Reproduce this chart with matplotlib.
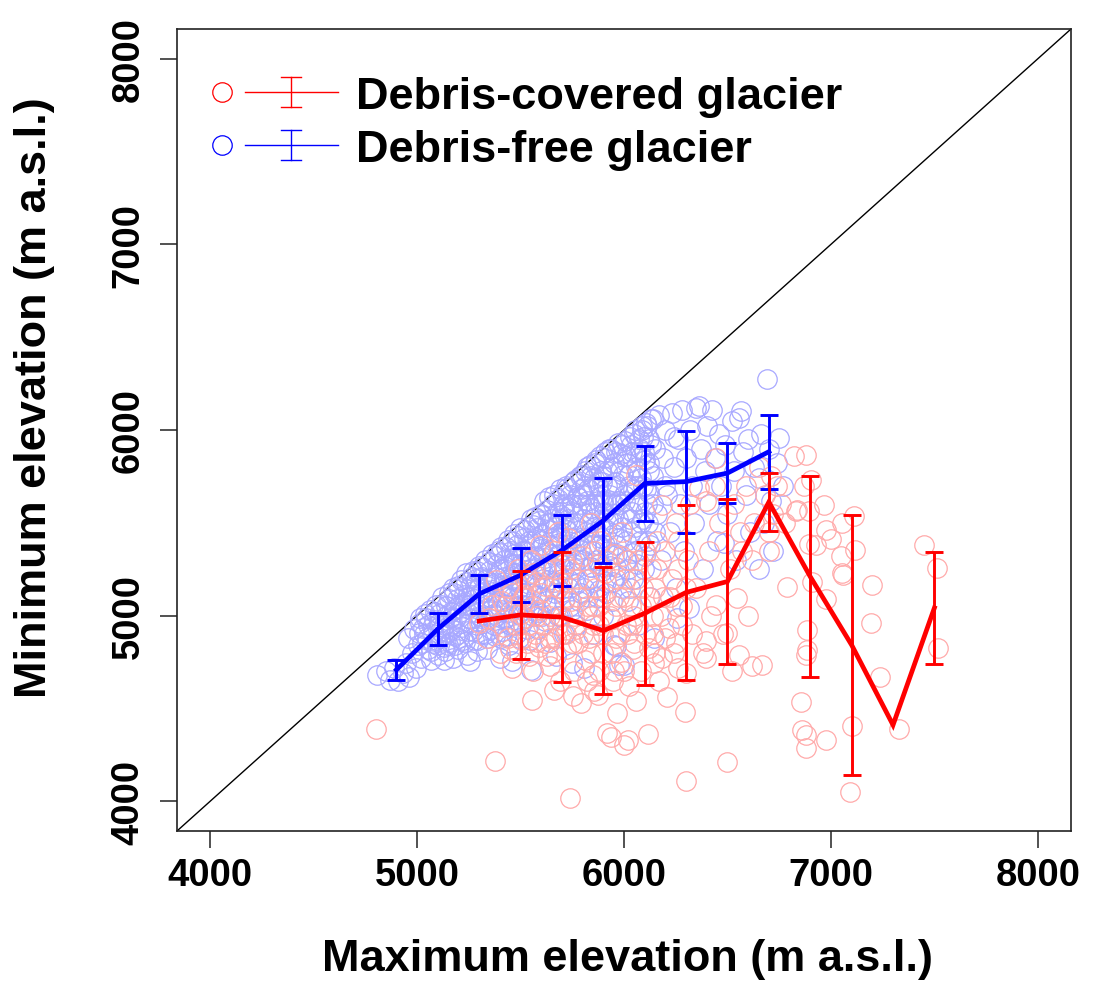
import numpy as np
import matplotlib
matplotlib.use("Agg")
import matplotlib.pyplot as plt

plt.rcParams['font.family'] = ['Liberation Sans', 'DejaVu Sans']

# glacier (max elevation, min elevation) pairs
blue_low = [(4805,4680),(4850,4700),(4870,4655),(4890,4720),(4910,4650),(4930,4690),(4945,4745),(4960,4670),
            (4955,4880),(4975,4800),(4985,4930),(4995,4720),(5005,4840),(5015,4960),(5020,4770),(5035,4900),
            (5045,4990),(5055,4820),(5065,4760),(5070,4940),(5085,5020),(5090,4870),(5100,4790),(5105,4960),
            (5115,5060),(5125,4900),(5130,4760),(5140,5000),(5150,4840),(5155,5090),(5165,4950),(5172,4770),
            (5180,5120),(5185,4890),(5190,5040),(5198,4820),(5130,4830),(5075,4850),(5110,4920),(5160,4990)]
blue_mid = [(5205,5150),(5210,4960),(5220,4870),(5225,5060),(5235,5180),(5240,4790),(5250,4990),(5254,4755),
            (5260,5110),(5265,5210),(5270,4920),(5280,5040),(5288,4810),(5290,5240),(5295,4870),(5300,5150),
            (5310,4990),(5315,5260),(5320,5080),(5330,4900),(5335,5200),(5340,4820),(5350,5290),(5355,5030),
            (5360,5130),(5370,4950),(5375,5320),(5380,5210),(5390,5060),(5399,4770),(5400,5340),(5405,4880),
            (5410,5160),(5420,5270),(5425,4990),(5430,5370),(5440,5100),(5445,4840),(5450,5220),(5457,4755),
            (5460,5400),(5465,5310),(5470,4950),(5480,5050),(5485,5180),(5490,5430),(5495,4880),(5500,5280),
            (5510,5350),(5515,5120),(5520,5460),(5525,4990),(5530,5220),(5540,5400),(5545,4870),(5553,4706),
            (5555,5300),(5560,5490),(5565,5060),(5570,5170),(5580,5420),(5585,4930),(5590,5510),(5595,5250),
            (5240,5100),(5300,5050),(5350,5180),(5380,5000),(5420,5120),(5460,5200),(5500,5140),(5540,5040),
            (5580,5320),(5280,5160),(5330,5100),(5400,5250),(5470,5330),(5520,5290)]
blue_core = [(5600,5540),(5605,5100),(5610,5380),(5620,4970),(5625,5250),(5630,5570),(5635,5460),(5640,4860),
             (5645,5150),(5650,5330),(5655,5600),(5660,5050),(5665,5480),(5670,4780),(5675,5220),(5680,5630),
             (5685,5390),(5690,5000),(5695,5540),(5700,5130),(5705,5660),(5710,4900),(5715,5300),(5720,5460),
             (5725,5690),(5730,5200),(5735,5580),(5740,5050),(5745,5370),(5751,4744),(5755,5720),(5760,5500),
             (5765,5250),(5770,4950),(5775,5640),(5780,5400),(5785,5750),(5790,5120),(5795,5560),(5800,5300),
             (5809,4717),(5810,5780),(5815,5450),(5820,5030),(5825,5680),(5830,5200),(5835,5810),(5840,5580),
             (5845,5350),(5850,4900),(5855,5740),(5860,5480),(5865,5840),(5870,5100),(5875,5620),(5880,5280),
             (5885,5860),(5890,5420),(5895,5720),(5900,5000),(5905,5560),(5910,5880),(5915,5180),(5920,5780),
             (5925,5350),(5930,5650),(5935,5900),(5940,5080),(5945,5500),(5954,4841),(5950,5820),(5960,5260),
             (5963,4836),(5965,5700),(5970,5930),(5975,5420),(5978,4733),(5980,5600),(5985,5870),(5990,5150),
             (5995,5760),(5650,5420),(5700,5520),(5750,5600),(5800,5650),(5850,5700),(5900,5750),(5950,5600),
             (5620,5310),(5680,5150),(5720,5380),(5780,5300),(5830,5500),(5880,5380),(5920,5460),(5970,5520),
             (5610,5200),(5690,5280),(5760,5420),(5840,5260),(5900,5620),(5960,5380),(5640,5500),(5710,5600),
             (5790,5680),(5860,5600),(5940,5700)]
blue_high = [(6000,5550),(6002,4733),(6005,5940),(6010,5300),(6015,5820),(6020,5080),(6025,5700),(6030,5960),
             (6035,5450),(6040,5880),(6045,5200),(6050,5620),(6055,6000),(6060,5350),(6065,5780),(6070,4950),
             (6075,5900),(6080,5500),(6085,6020),(6090,5700),(6095,5250),(6100,5840),(6105,6040),(6110,5600),
             (6115,5400),(6120,5950),(6125,5100),(6130,6060),(6140,5750),(6147,4879),(6150,5900),(6160,5550),
             (6170,6080),(6180,5300),(6190,5850),(6200,6000),(6210,5650),(6220,5450),(6230,6090),(6240,5800),
             (6250,5150),(6258,4987),(6260,5950),(6270,5600),(6280,6110),(6290,5350),(6300,5850),(6315,5040),
             (6320,6000),(6330,5700),(6340,5500),(6350,6120),(6364,6130),(6370,5900),(6380,5250),(6390,5780),
             (6400,6020),(6030,5150),(6060,5880),(6090,5960),(6120,5820),(6200,5700),(6240,5960)]
blue_right = [(6410,5600),(6427,6108),(6440,5850),(6450,5400),(6460,5980),(6470,5700),(6484,5391),(6490,5920),
              (6500,5550),(6520,6050),(6530,5780),(6540,5300),(6557,6065),(6567,6102),(6575,5880),(6590,5650),
              (6600,5950),(6610,5450),(6630,5800),(6653,5741),(6660,5980),(6677,5499),(6692,6275),(6700,5900),
              (6710,5620),(6740,5822),(6750,5957),(6770,5700),(6720,5350),(6650,5250)]
# the densely packed part of the debris-free cloud
blue_fill_a = [(5008,4905),(5012,4985),(5022,4850),(5028,4935),(5040,5010),(5048,4880),(5052,4950),(5062,5030),
               (5068,4810),(5078,4900),(5082,4975),(5092,5060),(5098,4840),(5108,5010),(5112,4880),(5120,5100),
               (5128,4950),(5135,4810),(5138,5050),(5146,4910),(5152,5120),(5158,4860),(5162,5020),(5170,4930),
               (5176,5150),(5182,4840),(5188,4990),(5194,5090),(5196,4900),(5200,5160)]
blue_fill_b = [(5204,4880),(5208,5020),(5214,5190),(5218,4940),(5226,5110),(5232,4860),(5238,5230),(5244,5040),
               (5248,4920),(5256,5160),(5262,4980),(5268,5240),(5274,4870),(5276,5090),(5284,5200),(5292,4950),
               (5298,5270),(5304,5000),(5308,4900),(5312,5210),(5318,5130),(5324,4960),(5328,5300),(5336,5040),
               (5342,4880),(5346,5240),(5352,5100),(5358,4930),(5364,5330),(5368,5170),(5372,5010),(5378,4890),
               (5384,5280),(5388,5080),(5392,5350),(5396,4960),(5344,5160),(5302,5120),(5258,5060),(5216,5070)]
blue_fill_c = [(5404,5030),(5408,5370),(5412,4920),(5418,5210),(5422,5300),(5428,4890),(5434,5160),(5438,5410),
               (5442,5020),(5448,5280),(5452,4950),(5456,5350),(5462,5100),(5468,5440),(5472,5230),(5476,4900),
               (5482,5380),(5488,5010),(5492,5150),(5498,5470),(5502,5320),(5506,4960),(5512,5230),(5516,5420),
               (5522,5060),(5528,5350),(5532,4930),(5536,5480),(5542,5170),(5548,5290),(5552,5520),(5558,5000),
               (5562,5400),(5568,5250),(5572,5530),(5576,5110),(5582,5470),(5586,5020),(5592,5360),(5598,5550),
               (5450,5160),(5500,5060),(5550,5120),(5430,5060),(5470,5280)]
blue_fill_d = [(5602,5000),(5606,5440),(5612,5620),(5616,5270),(5622,5080),(5628,5500),(5632,5190),(5638,5640),
               (5642,5380),(5648,5040),(5652,5520),(5658,5260),(5662,5650),(5668,5120),(5672,5430),(5678,5560),
               (5682,5000),(5688,5330),(5692,5680),(5698,5200),(5702,5450),(5708,5580),(5712,5080),(5718,5700),
               (5722,5320),(5728,5520),(5732,5150),(5738,5650),(5742,5420),(5748,5030),(5752,5560),(5758,5280),
               (5762,5730),(5768,5170),(5772,5480),(5778,5640),(5782,5080),(5788,5360),(5792,5600),(5798,5760),
               (5660,5180),(5710,5250),(5770,5330),(5630,5350),(5690,5420)]
blue_fill_e = [(5802,5520),(5806,5150),(5812,5700),(5818,5380),(5822,5800),(5828,5100),(5832,5600),(5838,5260),
               (5842,5750),(5848,5450),(5852,5180),(5858,5820),(5862,5560),(5868,5300),(5872,5700),(5878,5140),
               (5882,5480),(5888,5780),(5892,5240),(5898,5600),(5902,5850),(5908,5380),(5912,5120),(5918,5700),
               (5922,5520),(5928,5900),(5932,5270),(5938,5620),(5942,5800),(5948,5180),(5952,5440),(5958,5720),
               (5962,5880),(5968,5330),(5972,5620),(5978,5220),(5982,5780),(5988,5480),(5992,5920),(5998,5650),
               (5850,5380),(5900,5480),(5950,5550),(5820,5620),(5880,5640)]
blue_fill_f = [(6004,5620),(6008,5400),(6012,5860),(6018,5250),(6022,5760),(6028,5520),(6032,5920),(6038,5340),
               (6042,5680),(6048,5980),(6052,5480),(6058,5800),(6062,5280),(6068,5600),(6072,5950),(6078,5400),
               (6082,5740),(6088,6000),(6092,5520),(6098,5880),(6102,5320),(6108,5680),(6112,6020),(6118,5500),
               (6122,5780),(6128,5380),(6132,5920),(6138,5600),(6142,6060),(6148,5450),(6040,5560),(6080,5860),
               (6120,5660),(6060,5700),(6100,5560)]

red_left = [(4800,4390),(5375,4215),(5557,4546),(5300,4960),(5340,4880),(5360,5060),(5380,5190),(5400,4800),
            (5420,4940),(5440,5150),(5460,4720),(5470,5030),(5490,5250),(5500,4870),(5510,5100),(5520,4990),
            (5529,5202),(5540,4780),(5550,5300),(5560,5050),(5570,4900),(5580,5180),(5590,4830),(5595,5380),
            (5350,4990),(5410,5080),(5480,4950),(5530,4850),(5580,5000),(5450,4820),(5520,5200),(5560,4700),
            (5600,5120)]
red_mid = [(5610,4950),(5620,5250),(5630,4780),(5640,4728),(5650,5060),(5660,5350),(5670,4880),(5680,5150),
           (5690,4650),(5700,5000),(5710,5280),(5720,4820),(5730,5420),(5740,4020),(5745,5080),(5755,4566),
           (5770,4930),(5780,5200),(5794,4528),(5800,5320),(5810,4760),(5820,5050),(5830,4880),(5840,5500),
           (5850,4680),(5857,4593),(5860,5150),(5872,4571),(5880,4950),(5890,5400),(5900,4800),(5910,5230),
           (5917,4367),(5930,5000),(5938,4345),(5945,4650),(5950,5330),(5960,4880),(5968,4474),(5975,5100),
           (5985,4750),(5990,5450),(6002,4304),(6005,5200),(6010,4950),(6017,4330),(6025,4620),(6035,5050),
           (6045,4820),(6060,4539),(6060,5757),(6070,5300),(6080,4700),(6090,5150),(6100,4900),(6115,4361),
           (6123,4825),(6130,5250),(6140,5000),(6147,4744),(6160,5400),(6170,4650),(6185,4771),(6190,5100),
           (6200,4880),(5640,5000),(5700,4900),(5760,4700),(5820,4650),(5880,4700),(5940,4800),(6000,4700),
           (6050,5000),(5660,4600),(5720,5100),(5780,4850),(5840,5000),(5900,5100),(5960,5050),(6020,4900),
           (5680,5450),(5750,5300),(5870,5280),(5990,5320),(6150,5150),(5620,4850),(5850,5050)]
red_extra = [(5420,5050),(5440,4880),(5460,5120),(5480,4800),(5500,5010),(5520,5110),(5540,4950),(5560,5230),
             (5580,4860),(5600,5030),(5620,5160),(5640,4880),(5660,5250),(5680,4950),(5700,5180),(5720,4900),
             (5740,5250),(5760,5000),(5780,5100),(5800,4900),(5820,5200),(5840,4800),(5860,5350),(5880,5050),
             (5900,4900),(5920,5300),(5940,4980),(5960,5200),(5980,4900),(6000,5100),(6020,5300),(6040,4950),
             (6060,5200),(6080,5050),(6100,5350),(6120,5100),(6140,4900),(6160,5250),(6180,5000),(6200,5350),
             (6220,5100),(6240,4800),(6260,5250),(6280,4950),(6300,5150),(5650,4800),(5750,4850),(5850,4950),
             (5950,4700),(6050,4850),(6150,4800),(6250,5050)]
red_right = [(6210,4561),(6219,4933),(6230,5200),(6250,5500),(6260,4720),(6280,5050),(6293,4483),(6300,4110),
             (6301,4690),(6310,5300),(6330,4900),(6350,5150),(6364,5687),(6380,4800),(6397,4862),(6397,4771),
             (6397,5617),(6410,5350),(6420,5000),(6446,5057),(6446,5849),(6460,5500),(6480,4900),(6499,4906),
             (6500,4210),(6510,5250),(6523,4701),(6530,5600),(6547,5094),(6557,4787),(6570,5350),(6590,5700),
             (6600,5000),(6620,4728),(6630,5500),(6650,5800),(6668,4733),(6680,5650),(6700,5450),(6710,5750),
             (6720,5550),(6740,5700),(6760,5600),(6780,5500),(6790,5157),(6185,5596),(6260,5400),(6320,5600),
             (6440,5700),(6560,5450),(6620,5300),(6700,5350),(6250,4850)]
red_far = [(6837,5569),(6857,4535),(6862,4384),(6870,5698),(6878,4286),(6879,5867),(6880,4356),(6880,4787),
           (6885,4922),(6885,4814),(6893,5385),(6894,5563),(6903,5732),(6910,5180),(6926,5382),(6968,5596),
           (6974,4330),(6975,5463),(6976,5088),(7000,5415),(7047,5321),(7054,5499),(7054,5229),(7058,5218),
           (7092,4051),(7100,4404),(7112,5536),(7114,5352),(7192,4960),(7198,5164),(7235,4670),(7329,4388),
           (7449,5381),(7512,5254),(7519,4825),(6832,5563),(6820,5860)]

# binned means and standard deviations
blue_bin = [4900, 5100, 5300, 5500, 5700, 5900, 6100, 6300, 6500, 6700]
blue_mean = [4708, 4928, 5117, 5218, 5352, 5512, 5712, 5722, 5768, 5883]
blue_sd = [53, 85, 103, 145, 190, 229, 200, 275, 162, 200]
red_bin = [5300, 5500, 5700, 5900, 6100, 6300, 6500, 6700, 6900, 7100, 7300, 7500]
red_mean = [4971, 5004, 4992, 4919, 5013, 5125, 5184, 5612, 5210, 4842, 4411, 5042]
red_sd = [np.nan, 239, 350, 342, 386, 471, 445, 156, 543, 700, np.nan, 303]

blue_pts = np.array(blue_low + blue_fill_a + blue_mid + blue_fill_b + blue_fill_c + blue_core
                    + blue_fill_d + blue_fill_e + blue_fill_f + blue_high + blue_right, dtype=float)
red_pts = np.array(red_left + red_mid + red_extra + red_right + red_far, dtype=float)

fig = plt.figure(figsize=(10.99, 9.87), dpi=100)
ax = fig.add_axes([177/1099, 1-832/987, 894/1099, 802/987])

ax.plot([3840, 8160], [3840, 8160], color='black', lw=1.0, zorder=1)

ax.plot(blue_pts[:,0], blue_pts[:,1], 'o', mfc='none', mec='#A8A8FF', ms=14, mew=0.9, zorder=2)
ax.plot(red_pts[:,0], red_pts[:,1], 'o', mfc='none', mec='#FFAAAA', ms=14, mew=0.9, zorder=3)

def mean_sd(bins, mean, sd, col, z):
    bins=np.asarray(bins,float); mean=np.asarray(mean,float); sd=np.asarray(sd,float)
    ax.plot(bins, mean, color=col, lw=3.4, zorder=z, solid_joinstyle='miter')
    ok=np.isfinite(sd)
    ax.errorbar(bins[ok], mean[ok], yerr=sd[ok], fmt='none', ecolor=col,
                elinewidth=2.1, capsize=6.3, capthick=2.1, zorder=z)

mean_sd(blue_bin, blue_mean, blue_sd, 'blue', 4)
mean_sd(red_bin, red_mean, red_sd, 'red', 5)

ax.set_xlim(3840, 8160)
ax.set_ylim(3840, 8160)
ticks=[4000, 5000, 6000, 7000, 8000]
ax.set_xticks(ticks)
ax.set_yticks(ticks)
ax.tick_params(length=12, width=1.1, pad=7, labelsize=27.5, color='#222222')
ax.tick_params(axis='y', pad=10)
for lab in ax.get_xticklabels() + ax.get_yticklabels():
    lab.set_fontweight('bold')
plt.setp(ax.get_yticklabels(), rotation=90, va='center')
for s in ax.spines.values():
    s.set_linewidth(1.2)
    s.set_color('#222222')

# legend drawn by hand, R style
rows = [(0.9214, 'red', 'Debris-covered glacier'), (0.8554, 'blue', 'Debris-free glacier')]
for fy, col, lab in rows:
    ax.plot([0.0503], [fy], 'o', mfc='none', mec=col, ms=14, mew=0.9, transform=ax.transAxes, clip_on=False)
    ax.plot([0.0761, 0.1801], [fy, fy], color=col, lw=1.0, transform=ax.transAxes)
    ax.plot([0.1275, 0.1275], [fy-0.0187, fy+0.0187], color=col, lw=1.0, transform=ax.transAxes)
    for cy in (fy-0.0187, fy+0.0187):
        ax.plot([0.1275-0.011, 0.1275+0.011], [cy, cy], color=col, lw=1.0, transform=ax.transAxes)
    ax.text(0.2002, fy-0.02, lab, transform=ax.transAxes, fontsize=32.5, fontweight='bold',
            va='baseline', ha='left')

fig.text(627/1099, 1-960/987, 'Maximum elevation (m a.s.l.)', fontsize=32.5, fontweight='bold',
         ha='center', va='center')
fig.text(35/1099, 1-398/987, 'Minimum elevation (m a.s.l.)', fontsize=32.5, fontweight='bold',
         ha='center', va='center', rotation=90)

fig.savefig('out.png', dpi=100)
